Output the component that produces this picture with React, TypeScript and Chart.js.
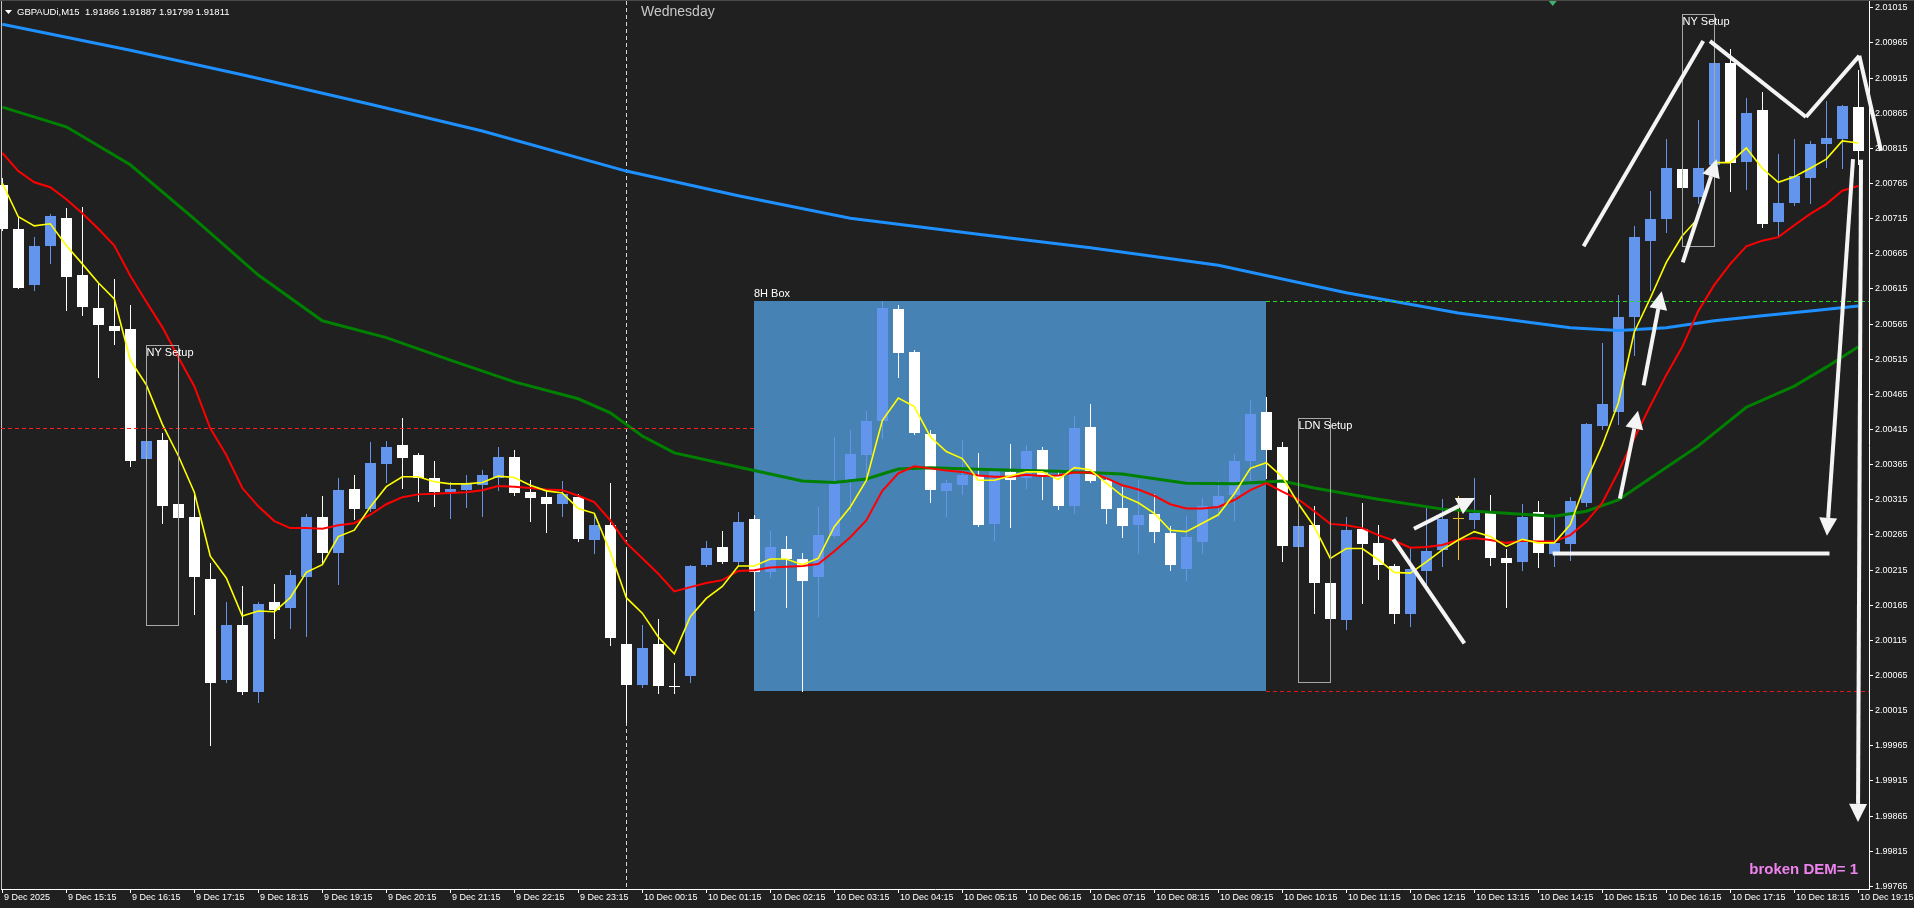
import React, { useEffect, useRef } from "react";
import { Chart, registerables } from "chart.js";

Chart.register(...registerables);

// ---------------- data ----------------
const headerText = "GBPAUDi,M15  1.91866 1.91887 1.91799 1.91811";
const dayName = "Wednesday";
const statusLabel = "broken DEM= 1";

const opens = [
  2.00762, 2.00699, 2.0062, 2.00676, 2.00715, 2.00634, 2.00587, 2.00561, 2.00557, 2.00372,
  2.004, 2.00308, 2.0029, 2.00202, 2.00058, 2.00136, 2.00041, 2.00169, 2.00161, 2.00205,
  2.0029, 2.00239, 2.00329, 2.00301, 2.00365, 2.00392, 2.00378, 2.00346, 2.00326, 2.00328,
  2.00336, 2.00345, 2.00375, 2.00326, 2.00318, 2.00308, 2.00318, 2.00257, 2.00279, 2.00109,
  2.00051, 2.00109, 2.0005, 2.00064, 2.00221, 2.00247, 2.00226, 2.00287, 2.00212, 2.00244,
  2.0023, 2.00205, 2.00263, 2.0034, 2.00378, 2.00426, 2.00586, 2.00524, 2.00408, 2.00327,
  2.00336, 2.0035, 2.0028, 2.00354, 2.00345, 2.00385, 2.0035, 2.00305, 2.00418, 2.00343,
  2.00302, 2.00278, 2.00294, 2.00267, 2.00216, 2.00254, 2.00305, 2.00321, 2.00369, 2.00439,
  2.00389, 2.00247, 2.00278, 2.00196, 2.00143, 2.00273, 2.00253, 2.0022, 2.00152, 2.00213,
  2.00243, 2.00288, 2.00285, 2.00297, 2.00231, 2.00226, 2.00297, 2.00237, 2.00251, 2.0031,
  2.00419, 2.00439, 2.00574, 2.00683, 2.00714, 2.00785, 2.00745, 2.00791, 2.00936, 2.00795,
  2.00869, 2.00709, 2.00737, 2.00772, 2.00821, 2.00827, 2.00873,
];
const highs = [
  2.00772, 2.00716, 2.00688, 2.00721, 2.00729, 2.00731, 2.00622, 2.00628, 2.00591, 2.0048,
  2.0041, 2.00332, 2.00325, 2.00225, 2.00169, 2.00191, 2.00169, 2.00194, 2.00215, 2.00294,
  2.00319, 2.00346, 2.00349, 2.00396, 2.00398, 2.00431, 2.00381, 2.00369, 2.00339, 2.0035,
  2.00356, 2.0039, 2.00385, 2.00343, 2.00328, 2.00341, 2.00322, 2.00295, 2.00338, 2.00244,
  2.00136, 2.00145, 2.00082, 2.00222, 2.00256, 2.0027, 2.00297, 2.00293, 2.0027, 2.00263,
  2.00238, 2.00304, 2.00404, 2.00413, 2.0044, 2.00597, 2.00591, 2.00527, 2.00413, 2.00343,
  2.004, 2.00381, 2.00357, 2.00394, 2.00392, 2.00389, 2.00357, 2.00433, 2.00451, 2.00347,
  2.00333, 2.00343, 2.00323, 2.00277, 2.00291, 2.00317, 2.00341, 2.00379, 2.00456, 2.0046,
  2.00396, 2.0038, 2.00306, 2.0022, 2.0029, 2.0031, 2.00279, 2.00223, 2.00246, 2.00305,
  2.00315, 2.00319, 2.00346, 2.00321, 2.00244, 2.00308, 2.00313, 2.00293, 2.00318, 2.00424,
  2.00537, 2.00606, 2.00704, 2.00754, 2.00828, 2.00851, 2.00855, 2.0096, 2.00956, 2.00886,
  2.00894, 2.00807, 2.00828, 2.00825, 2.00882, 2.00876, 2.00926,
];
const lows = [
  2.00698, 2.00615, 2.00613, 2.00651, 2.00584, 2.00577, 2.00489, 2.00536, 2.00362, 2.00354,
  2.00281, 2.00185, 2.00152, 1.99965, 2.00055, 2.00038, 2.00027, 2.00118, 2.00132, 2.0012,
  2.00225, 2.00195, 2.00287, 2.00299, 2.0034, 2.00331, 2.00313, 2.00305, 2.00289, 2.00304,
  2.00291, 2.00328, 2.00321, 2.00284, 2.00269, 2.00291, 2.00256, 2.00239, 2.00107, 1.99998,
  2.00048, 2.00039, 2.00039, 2.00055, 2.0022, 2.00225, 2.00221, 2.00157, 2.00205, 2.00162,
  2.00042, 2.00149, 2.00262, 2.00299, 2.00347, 2.00402, 2.00489, 2.00408, 2.00311, 2.00291,
  2.00322, 2.00277, 2.00257, 2.00276, 2.00331, 2.00316, 2.00301, 2.00296, 2.00339, 2.00281,
  2.00262, 2.00238, 2.00254, 2.00214, 2.002, 2.00238, 2.00291, 2.00285, 2.00342, 2.00345,
  2.00227, 2.00246, 2.00153, 2.00108, 2.00131, 2.00168, 2.00202, 2.00139, 2.00135, 2.00194,
  2.0022, 2.0023, 2.00274, 2.00222, 2.00162, 2.00214, 2.00219, 2.0022, 2.00228, 2.00305,
  2.00415, 2.00422, 2.0052, 2.00613, 2.00695, 2.00725, 2.00737, 2.0079, 2.00754, 2.00757,
  2.00702, 2.0069, 2.00734, 2.00737, 2.00788, 2.00786, 2.00792,
];
const closes = [
  2.007, 2.00616, 2.00676, 2.00718, 2.00631, 2.00588, 2.00563, 2.00554, 2.00369, 2.00398,
  2.00306, 2.00289, 2.00205, 2.00054, 2.00136, 2.00041, 2.00166, 2.00157, 2.00207, 2.0029,
  2.00239, 2.00328, 2.00301, 2.00366, 2.00389, 2.00374, 2.00345, 2.00325, 2.00329, 2.00337,
  2.00349, 2.00375, 2.00324, 2.00317, 2.00308, 2.00322, 2.00259, 2.00279, 2.00117, 2.00051,
  2.00103, 2.00049, 2.00049, 2.0022, 2.00245, 2.00226, 2.00283, 2.00212, 2.00247, 2.0023,
  2.00199, 2.00264, 2.00338, 2.00379, 2.00427, 2.00587, 2.00523, 2.00409, 2.00328, 2.00338,
  2.0035, 2.00278, 2.00356, 2.00343, 2.00384, 2.0035, 2.00306, 2.00416, 2.00341, 2.00301,
  2.00277, 2.00293, 2.00268, 2.00222, 2.00261, 2.00306, 2.0032, 2.00369, 2.00437, 2.00385,
  2.00248, 2.00277, 2.00196, 2.00145, 2.00271, 2.00251, 2.00222, 2.00152, 2.00216, 2.00241,
  2.00287, 2.00288, 2.00295, 2.00231, 2.00224, 2.0029, 2.00238, 2.00253, 2.00313, 2.00422,
  2.00451, 2.00574, 2.00688, 2.00714, 2.00787, 2.00758, 2.00787, 2.00936, 2.00793, 2.00865,
  2.00707, 2.00737, 2.00775, 2.0082, 2.00829, 2.00875, 2.00811,
];

const yellowMA = [
  2.00765, 2.00717, 2.00704, 2.00707, 2.00676, 2.0065, 2.00623, 2.006, 2.00513, 2.00478,
  2.00422, 2.00377, 2.00325, 2.00234, 2.00203, 2.00149, 2.00156, 2.00155, 2.00175, 2.00211,
  2.00222, 2.00262, 2.00271, 2.00304, 2.00333, 2.00347, 2.00347, 2.0034, 2.00337, 2.00337,
  2.00339, 2.00348, 2.00346, 2.00335, 2.00327, 2.00324, 2.00302, 2.00295, 2.0024, 2.00175,
  2.00153, 2.00119, 2.00095, 2.00148, 2.00174, 2.00191, 2.0022, 2.0022, 2.0023, 2.0023,
  2.00222, 2.00231, 2.00276, 2.00304, 2.00342, 2.00427, 2.00459, 2.00447, 2.00404, 2.00383,
  2.00373, 2.00342, 2.00342, 2.00348, 2.00354, 2.00354, 2.00343, 2.0036, 2.00357, 2.00338,
  2.0032, 2.0031, 2.00295, 2.00271, 2.00269, 2.00281, 2.00293, 2.00323, 2.00359, 2.00367,
  2.00347, 2.00309, 2.00276, 2.00231, 2.00245, 2.00245, 2.00229, 2.00211, 2.0021, 2.00226,
  2.00243, 2.00257, 2.00269, 2.00262, 2.00248, 2.00258, 2.00253, 2.00253, 2.00279, 2.00341,
  2.00392, 2.00452, 2.00553, 2.00601, 2.00652, 2.0069, 2.00715, 2.00794, 2.00794, 2.00815,
  2.00786, 2.00766, 2.00774, 2.00786, 2.00799, 2.00825, 2.00822,
];
const redMA = [
  2.00808, 2.00782, 2.00766, 2.00759, 2.00742, 2.00722, 2.007, 2.00676, 2.00633, 2.00596,
  2.0056, 2.00517, 2.00476, 2.00416, 2.00378, 2.00331, 2.00305, 2.00284, 2.00274, 2.00274,
  2.00273, 2.00278, 2.00281, 2.00293, 2.00308, 2.00318, 2.00322, 2.00323, 2.00324, 2.00325,
  2.00328, 2.00334, 2.00333, 2.00331, 2.00329, 2.00328, 2.0032, 2.00311, 2.00285, 2.00253,
  2.00231, 2.00209, 2.00184, 2.0019, 2.00196, 2.002, 2.00213, 2.00214, 2.00218, 2.00219,
  2.0022, 2.00223, 2.00241, 2.00261, 2.00285, 2.00327, 2.00352, 2.00362, 2.00359, 2.00356,
  2.00354, 2.00349, 2.00347, 2.00347, 2.0035, 2.00348, 2.00349, 2.00353, 2.00353, 2.00345,
  2.00335, 2.00329, 2.0032, 2.00308, 2.00302, 2.00302, 2.00304, 2.00314, 2.00328, 2.00338,
  2.00326, 2.00315, 2.00298, 2.0028, 2.00278, 2.00274, 2.00264, 2.00256, 2.00246, 2.00247,
  2.0025, 2.00257, 2.0026, 2.00257, 2.00253, 2.00256, 2.00255, 2.00255, 2.00264, 2.00283,
  2.0031, 2.00354, 2.00402, 2.00448, 2.00492, 2.00532, 2.00583, 2.0062, 2.0065, 2.00675,
  2.00683, 2.00688, 2.00705, 2.00721, 2.00735, 2.00754, 2.00761,
];
const greenBars = [0, 4, 8, 12, 16, 20, 24, 28, 32, 36, 38, 40, 42, 46, 50, 52, 54, 56, 58, 62, 66, 70, 74, 77, 80, 82, 86, 90, 94, 97, 99, 101, 103, 106, 109, 112, 114, 116];
const greenMA = [2.00873, 2.00845, 2.00791, 2.00714, 2.00634, 2.00569, 2.00545, 2.00513, 2.00482, 2.00458, 2.00438, 2.00405, 2.00381, 2.00361, 2.00341, 2.00339, 2.00344, 2.00358, 2.0036, 2.00357, 2.00355, 2.00351, 2.00338, 2.00337, 2.00341, 2.00331, 2.00315, 2.00301, 2.00295, 2.00291, 2.00298, 2.00314, 2.00345, 2.00391, 2.00446, 2.00476, 2.00503, 2.00532];
const blueBars = [0, 8, 15, 23, 30, 39, 46, 53, 61, 68, 76, 84, 91, 98, 101, 104, 107, 110, 113, 116];
const blueMA = [2.00991, 2.00954, 2.00919, 2.00877, 2.00839, 2.00782, 2.00747, 2.00715, 2.00692, 2.00673, 2.00648, 2.00609, 2.0058, 2.00559, 2.00555, 2.00559, 2.00569, 2.00576, 2.00583, 2.0059];

const xTickBars = [0, 4, 8, 12, 16, 20, 24, 28, 32, 36, 40, 44, 48, 52, 56, 60, 64, 68, 72, 76, 80, 84, 88, 92, 96, 100, 104, 108, 112, 116];
const xTickLabels = [
  "9 Dec 2025", "9 Dec 15:15", "9 Dec 16:15", "9 Dec 17:15", "9 Dec 18:15", "9 Dec 19:15",
  "9 Dec 20:15", "9 Dec 21:15", "9 Dec 22:15", "9 Dec 23:15", "10 Dec 00:15", "10 Dec 01:15",
  "10 Dec 02:15", "10 Dec 03:15", "10 Dec 04:15", "10 Dec 05:15", "10 Dec 06:15", "10 Dec 07:15",
  "10 Dec 08:15", "10 Dec 09:15", "10 Dec 10:15", "10 Dec 11:15", "10 Dec 12:15", "10 Dec 13:15",
  "10 Dec 14:15", "10 Dec 15:15", "10 Dec 16:15", "10 Dec 17:15", "10 Dec 18:15", "10 Dec 19:15",
];
const yTickLabels = [
  "2.01015", "2.00965", "2.00915", "2.00865", "2.00815", "2.00765", "2.00715", "2.00665", "2.00615",
  "2.00565", "2.00515", "2.00465", "2.00415", "2.00365", "2.00315", "2.00265", "2.00215", "2.00165",
  "2.00115", "2.00065", "2.00015", "1.99965", "1.99915", "1.99865", "1.99815", "1.99765",
];

const separatorBar = 39;
const box8HStart = 47;
const box8HEnd = 79;
const box8HTop = 2.00597;
const box8HBottom = 2.00042;
const box8HLabel = "8H Box";
const earlyLevel = 2.00416; // red dashed level before the box
const setupLabels = ["NY Setup", "LDN Setup", "NY Setup"];
const setupStart = [9, 81, 105];
const setupEnd = [11, 83, 107];
const setupTop = [2.00534, 2.0043, 2.01005];
const setupBottom = [2.00136, 2.00055, 2.00676];
// plain trend lines: [bar1, price1, bar2, price2]
const trendLines = [
  [86.94, 2.00258, 91.38, 2.0011],
  [96.9, 2.00238, 114.2, 2.00238],
  [98.83, 2.00675, 106.31, 2.00967],
  [106.73, 2.00967, 112.73, 2.00859],
  [112.73, 2.00859, 116.06, 2.00946],
  [116.06, 2.00946, 117.42, 2.00811],
];
// arrows: [bar1, price1, barTip, priceTip]
const arrowLines = [
  [88.23, 2.00273, 92.04, 2.00317],
  [101.1, 2.00316, 102.23, 2.00441],
  [102.58, 2.00477, 103.71, 2.00611],
  [105.03, 2.00652, 107.15, 2.00799],
  [115.67, 2.00799, 114.04, 2.00263],
  [116.17, 2.00798, 115.98, 1.99856],
];
const shiftMarkerBar = 96.9;

// ---------------- styling ----------------
const FONT = "'Liberation Sans', Arial, sans-serif";
const BG = "#202020";
const BULL = "#6495ED";
const BEAR = "#FFFFFF";
const DOJI = "#F0C020";
const X_MIN = -0.08125;
const X_MAX = 116.66875;
const Y_MIN = 1.997605;
const Y_MAX = 2.01024;

function drawArrow(ctx: CanvasRenderingContext2D, x1: number, y1: number, x2: number, y2: number) {
  const dx = x2 - x1;
  const dy = y2 - y1;
  const len = Math.hypot(dx, dy) || 1;
  const ux = dx / len;
  const uy = dy / len;
  const head = 18;
  const hw = 9;
  const bx = x2 - ux * head;
  const by = y2 - uy * head;
  ctx.beginPath();
  ctx.moveTo(x1, y1);
  ctx.lineTo(bx, by);
  ctx.stroke();
  ctx.beginPath();
  ctx.moveTo(x2, y2);
  ctx.lineTo(bx - uy * hw, by + ux * hw);
  ctx.lineTo(bx + uy * hw, by - ux * hw);
  ctx.closePath();
  ctx.fill();
}

const mt5Plugin = {
  id: "mt5",
  beforeDraw(chart: any) {
    const { ctx, width, height } = chart;
    ctx.save();
    ctx.fillStyle = BG;
    ctx.fillRect(0, 0, width, height);
    ctx.fillStyle = "#4a4a4a";
    ctx.fillRect(0, 0, width, 1);
    ctx.restore();
  },
  beforeDatasetsDraw(chart: any) {
    const { ctx, chartArea } = chart;
    const xs = chart.scales.x;
    const ys = chart.scales.y;
    const X = (v: number) => xs.getPixelForValue(v);
    const Y = (v: number) => ys.getPixelForValue(v);
    ctx.save();
    // 8H box (background object)
    const bl = Math.round(X(box8HStart));
    const br = Math.round(X(box8HEnd));
    const bt = Math.round(Y(box8HTop));
    const bb = Math.round(Y(box8HBottom));
    ctx.fillStyle = "#4682B4";
    ctx.fillRect(bl, bt, br - bl, bb - bt);

    // day separator
    ctx.strokeStyle = "#d8d8d8";
    ctx.lineWidth = 1;
    ctx.setLineDash([4, 3]);
    const sx = Math.round(X(separatorBar)) + 0.5;
    ctx.beginPath();
    ctx.moveTo(sx, chartArea.top);
    ctx.lineTo(sx, chartArea.bottom);
    ctx.stroke();
    ctx.setLineDash([]);

    // left frame line
    ctx.fillStyle = "#c8c8c8";
    ctx.fillRect(1, chartArea.top, 1, chartArea.bottom - chartArea.top);

    // candles
    for (let i = 0; i < opens.length; i++) {
      const cx = Math.round(X(i));
      const o = opens[i];
      const c = closes[i];
      const yH = Math.round(Y(highs[i]));
      const yL = Math.round(Y(lows[i]));
      const yO = Math.round(Y(o));
      const yC = Math.round(Y(c));
      const color = c > o ? BULL : c < o ? BEAR : DOJI;
      ctx.fillStyle = color;
      ctx.fillRect(cx, yH, 1, Math.max(1, yL - yH + 1));
      const top = Math.min(yO, yC);
      const h = Math.max(1, Math.abs(yO - yC));
      ctx.fillRect(cx - 5, top, 11, h);
    }
    ctx.restore();
  },
  afterDatasetsDraw(chart: any) {
    const { ctx, chartArea } = chart;
    const xs = chart.scales.x;
    const ys = chart.scales.y;
    const X = (v: number) => xs.getPixelForValue(v);
    const Y = (v: number) => ys.getPixelForValue(v);
    ctx.save();

    // dashed levels
    ctx.lineWidth = 1;
    ctx.setLineDash([4, 3]);
    const lvl = (price: number, x1: number, x2: number, color: string) => {
      const yy = Math.round(Y(price)) + 0.5;
      ctx.strokeStyle = color;
      ctx.beginPath();
      ctx.moveTo(x1, yy);
      ctx.lineTo(x2, yy);
      ctx.stroke();
    };
    lvl(earlyLevel, chartArea.left, Math.round(X(box8HStart)), "#ff2020");
    lvl(box8HTop, Math.round(X(box8HEnd)), chartArea.right, "#22dd22");
    lvl(box8HBottom, Math.round(X(box8HEnd)), chartArea.right, "#dd1a1a");
    ctx.setLineDash([]);

    // setup boxes
    ctx.font = `11px ${FONT}`;
    ctx.textBaseline = "top";
    ctx.textAlign = "left";
    for (let k = 0; k < setupLabels.length; k++) {
      const l = Math.round(X(setupStart[k])) + 0.5;
      const r = Math.round(X(setupEnd[k])) + 0.5;
      const t = Math.round(Y(setupTop[k])) + 0.5;
      const b = Math.round(Y(setupBottom[k])) + 0.5;
      ctx.strokeStyle = "#a8a8a8";
      ctx.lineWidth = 1;
      ctx.strokeRect(l, t, r - l, b - t);
      ctx.fillStyle = "#ffffff";
      ctx.fillText(setupLabels[k], l, t + 2);
    }

    // 8H box label
    ctx.textBaseline = "bottom";
    ctx.fillStyle = "#ffffff";
    ctx.fillText(box8HLabel, Math.round(X(box8HStart)), Math.round(Y(box8HTop)) - 2);

    // trend lines and arrows
    ctx.strokeStyle = "#f4f4f4";
    ctx.fillStyle = "#f4f4f4";
    ctx.lineWidth = 4;
    ctx.lineCap = "butt";
    for (const t of trendLines) {
      ctx.beginPath();
      ctx.moveTo(X(t[0]), Y(t[1]));
      ctx.lineTo(X(t[2]), Y(t[3]));
      ctx.stroke();
    }
    for (const a of arrowLines) {
      drawArrow(ctx, X(a[0]), Y(a[1]), X(a[2]), Y(a[3]));
    }
    ctx.restore();
  },
  afterDraw(chart: any) {
    const { ctx, chartArea } = chart;
    const xs = chart.scales.x;
    const ys = chart.scales.y;
    ctx.save();
    // axis ticks + labels
    ctx.fillStyle = "#ffffff";
    ctx.font = `9px ${FONT}`;
    ctx.textAlign = "left";
    ctx.textBaseline = "top";
    for (let k = 0; k < xTickBars.length; k++) {
      const px = Math.round(xs.getPixelForValue(xTickBars[k]));
      ctx.fillRect(px, chartArea.bottom, 1, 4);
      ctx.fillText(xTickLabels[k], px + 2, chartArea.bottom + 4);
    }
    ctx.textBaseline = "middle";
    for (let k = 0; k < yTickLabels.length; k++) {
      const py = Math.round(ys.getPixelForValue(parseFloat(yTickLabels[k])));
      ctx.fillRect(chartArea.right, py, 4, 1);
      ctx.fillText(yTickLabels[k], chartArea.right + 6, py + 0.5);
    }

    // header
    ctx.beginPath();
    ctx.moveTo(5, 10);
    ctx.lineTo(12, 10);
    ctx.lineTo(8.5, 14);
    ctx.closePath();
    ctx.fill();
    ctx.font = `9.5px ${FONT}`;
    ctx.textBaseline = "middle";
    ctx.fillText(headerText, 17, 12);

    // day name
    ctx.fillStyle = "#c8c8c8";
    ctx.font = `14px ${FONT}`;
    ctx.fillText(dayName, Math.round(xs.getPixelForValue(separatorBar)) + 15, 12);

    // shift marker
    const mx = xs.getPixelForValue(shiftMarkerBar);
    ctx.fillStyle = "#3cb371";
    ctx.beginPath();
    ctx.moveTo(mx - 4, 1);
    ctx.lineTo(mx + 4, 1);
    ctx.lineTo(mx, 6);
    ctx.closePath();
    ctx.fill();

    // status label
    ctx.fillStyle = "#EE82EE";
    ctx.font = `bold 15px ${FONT}`;
    ctx.textAlign = "right";
    ctx.fillText(statusLabel, Math.round(xs.getPixelForValue(116)), 870);
    ctx.restore();
  },
};

export default function App() {
  const ref = useRef<HTMLCanvasElement | null>(null);
  useEffect(() => {
    document.body.style.margin = "0";
    document.body.style.background = BG;
    const canvas = ref.current;
    if (!canvas) return;
    const line = (bars: number[], vals: number[], color: string, w: number) => ({
      data: vals.map((v, i) => ({ x: bars[i], y: v })),
      borderColor: color,
      borderWidth: w,
      pointRadius: 0,
      tension: 0,
      fill: false,
    });
    const allBars = opens.map((_, i) => i);
    const chart = new Chart(canvas, {
      type: "line",
      data: {
        datasets: [
          line(allBars, yellowMA, "#ffff00", 1.6),
          line(allBars, redMA, "#ff0000", 2),
          line(greenBars, greenMA, "#008000", 3),
          line(blueBars, blueMA, "#1E90FF", 3),
        ] as any,
      },
      options: {
        responsive: false,
        animation: false,
        devicePixelRatio: 1,
        events: [],
        layout: { padding: { left: 1, top: 1, right: 0, bottom: 0 } },
        plugins: { legend: { display: false }, tooltip: { enabled: false } },
        scales: {
          x: {
            type: "linear",
            position: "bottom",
            min: X_MIN,
            max: X_MAX,
            ticks: { display: false },
            grid: { display: false },
            border: { display: true, color: "#ffffff", width: 1 },
            afterFit: (s: any) => {
              s.height = 19;
            },
          },
          y: {
            type: "linear",
            position: "right",
            min: Y_MIN,
            max: Y_MAX,
            ticks: { display: false },
            grid: { display: false },
            border: { display: true, color: "#ffffff", width: 1 },
            afterFit: (s: any) => {
              s.width = 45;
            },
          },
        },
      } as any,
      plugins: [mt5Plugin],
    });
    return () => chart.destroy();
  }, []);
  return (
    <canvas
      ref={ref}
      width={1914}
      height={908}
      style={{ display: "block", width: "1914px", height: "908px" }}
    />
  );
}
